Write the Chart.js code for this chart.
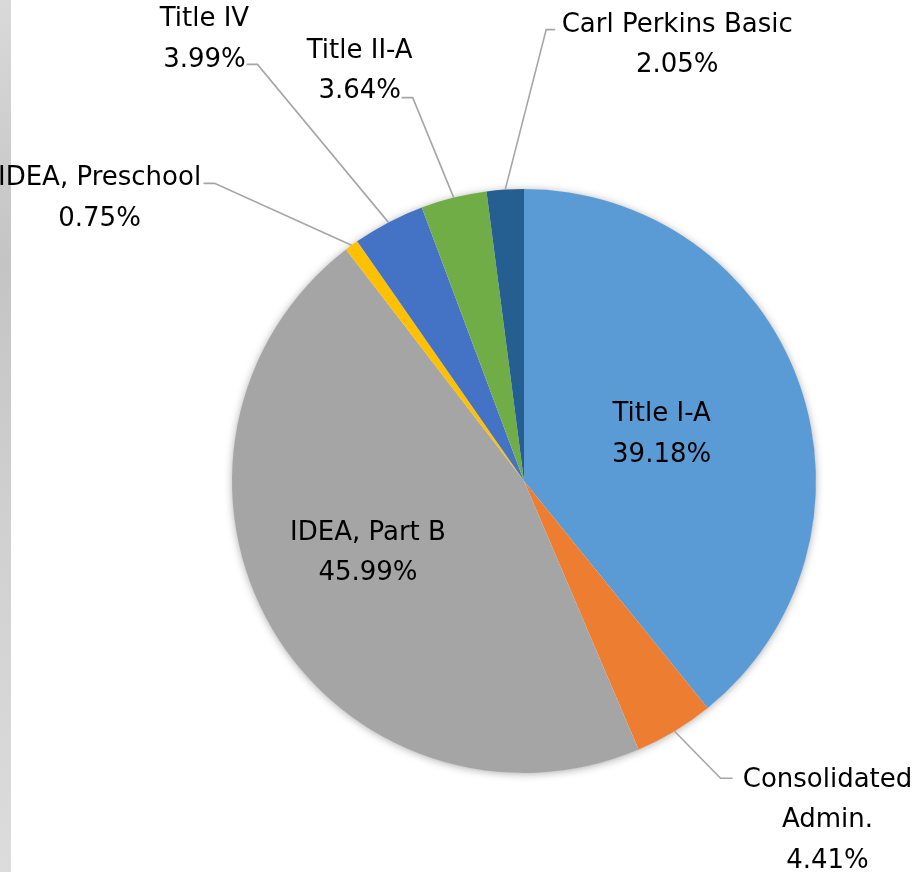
<!DOCTYPE html>
<html>
<head>
<meta charset="utf-8">
<script src="https://cdn.jsdelivr.net/npm/chart.js@4.4.1/dist/chart.umd.min.js"></script>
<style>
  html, body { margin: 0; padding: 0; background: #fff; }
  #wrap { position: relative; width: 917px; height: 872px; }
</style>
</head>
<body>
<div id="wrap"><canvas id="fundChart"></canvas></div>
<script>
// categories and shares (percent), clockwise from 12 o'clock
const categories = ['Title I-A', 'Consolidated Admin.', 'IDEA, Part B', 'IDEA, Preschool', 'Title IV', 'Title II-A', 'Carl Perkins Basic'];
const shares = [39.18, 4.41, 45.99, 0.75, 3.99, 3.64, 2.05];
const labelLines = [
  ['Title I-A'],
  ['Consolidated', 'Admin.'],
  ['IDEA, Part B'],
  ['IDEA, Preschool'],
  ['Title IV'],
  ['Title II-A'],
  ['Carl Perkins Basic']
];
const sliceColors = ['#5B9BD5', '#ED7D31', '#A5A5A5', '#FFC000', '#4472C4', '#70AD47', '#255E91'];

// label placement (style only), offsets relative to the slice's outer edge point
const labelStyle = [
  { inside: true, frac: 0.5, dx: 0, dy: 0 },
  { inside: false, elbow: [46, 47], end: [58, 47], text: [153, 87] },
  { inside: true, frac: 0.5, dx: -30, dy: -4 },
  { inside: false, elbow: [-137, -62], end: [-148, -62], text: [-252, -49] },
  { inside: false, elbow: [-131, -158], end: [-142, -158], text: [-184, -185] },
  { inside: false, elbow: [-41, -100], end: [-52, -100], text: [-94, -129] },
  { inside: false, elbow: [41, -160], end: [50, -160], text: [172, -147] }
];

const FONT = '26px "DejaVu Sans"';
const LINE_H = 40.5;
const TEXT_SHIFT = 2.5;

const backdrop = {
  id: 'backdrop',
  beforeDraw(chart) {
    const ctx = chart.ctx;
    ctx.save();
    ctx.fillStyle = '#ffffff';
    ctx.fillRect(0, 0, chart.width, chart.height);
    const g = ctx.createLinearGradient(0, 0, 0, chart.height);
    g.addColorStop(0, '#d9d9d9');
    g.addColorStop(0.3, '#c4c4c4');
    g.addColorStop(0.6, '#d0d0d0');
    g.addColorStop(1, '#dcdcdc');
    ctx.fillStyle = g;
    ctx.fillRect(0, 0, 11, chart.height);
    ctx.restore();
  },
  beforeDatasetsDraw(chart) {
    // one soft shadow under the whole pie
    const arc = chart.getDatasetMeta(0).data[0];
    if (!arc) return;
    const ctx = chart.ctx;
    ctx.save();
    ctx.shadowColor = 'rgba(0,0,0,0.35)';
    ctx.shadowBlur = 9;
    ctx.shadowOffsetY = 1;
    ctx.fillStyle = '#ffffff';
    ctx.beginPath();
    ctx.arc(arc.x, arc.y, arc.outerRadius - 0.5, 0, Math.PI * 2);
    ctx.fill();
    ctx.restore();
  }
};

const pieLabels = {
  id: 'pieLabels',
  afterDraw(chart) {
    const ctx = chart.ctx;
    const meta = chart.getDatasetMeta(0);
    ctx.save();
    ctx.font = FONT;
    ctx.textAlign = 'center';
    ctx.textBaseline = 'middle';
    meta.data.forEach((arc, i) => {
      const p = arc.getProps(['x', 'y', 'startAngle', 'endAngle', 'outerRadius'], true);
      const mid = (p.startAngle + p.endAngle) / 2;
      const st = labelStyle[i];
      const lines = labelLines[i].concat([shares[i].toFixed(2) + '%']);
      let cx, cy;
      if (st.inside) {
        cx = p.x + Math.cos(mid) * p.outerRadius * st.frac + st.dx;
        cy = p.y + Math.sin(mid) * p.outerRadius * st.frac + st.dy;
      } else {
        const ex = p.x + Math.cos(mid) * p.outerRadius;
        const ey = p.y + Math.sin(mid) * p.outerRadius;
        ctx.strokeStyle = '#a6a6a6';
        ctx.lineWidth = 1.6;
        ctx.beginPath();
        ctx.moveTo(ex, ey);
        ctx.lineTo(ex + st.elbow[0], ey + st.elbow[1]);
        ctx.lineTo(ex + st.end[0], ey + st.end[1]);
        ctx.stroke();
        cx = ex + st.text[0];
        cy = ey + st.text[1];
      }
      ctx.fillStyle = '#000000';
      const top = cy - (lines.length - 1) * LINE_H / 2 + TEXT_SHIFT;
      lines.forEach((t, k) => ctx.fillText(t, cx, top + k * LINE_H));
    });
    ctx.restore();
  }
};

new Chart(document.getElementById('fundChart'), {
  type: 'pie',
  data: {
    labels: categories,
    datasets: [{
      data: shares,
      backgroundColor: sliceColors,
      borderWidth: 0,
      hoverOffset: 0,
      offset: 0
    }]
  },
  options: {
    responsive: true,
    maintainAspectRatio: false,
    animation: false,
    layout: { padding: { left: 232, right: 101, top: 189, bottom: 99 } },
    plugins: {
      legend: { display: false },
      tooltip: { enabled: false }
    }
  },
  plugins: [backdrop, pieLabels]
});
</script>
</body>
</html>
